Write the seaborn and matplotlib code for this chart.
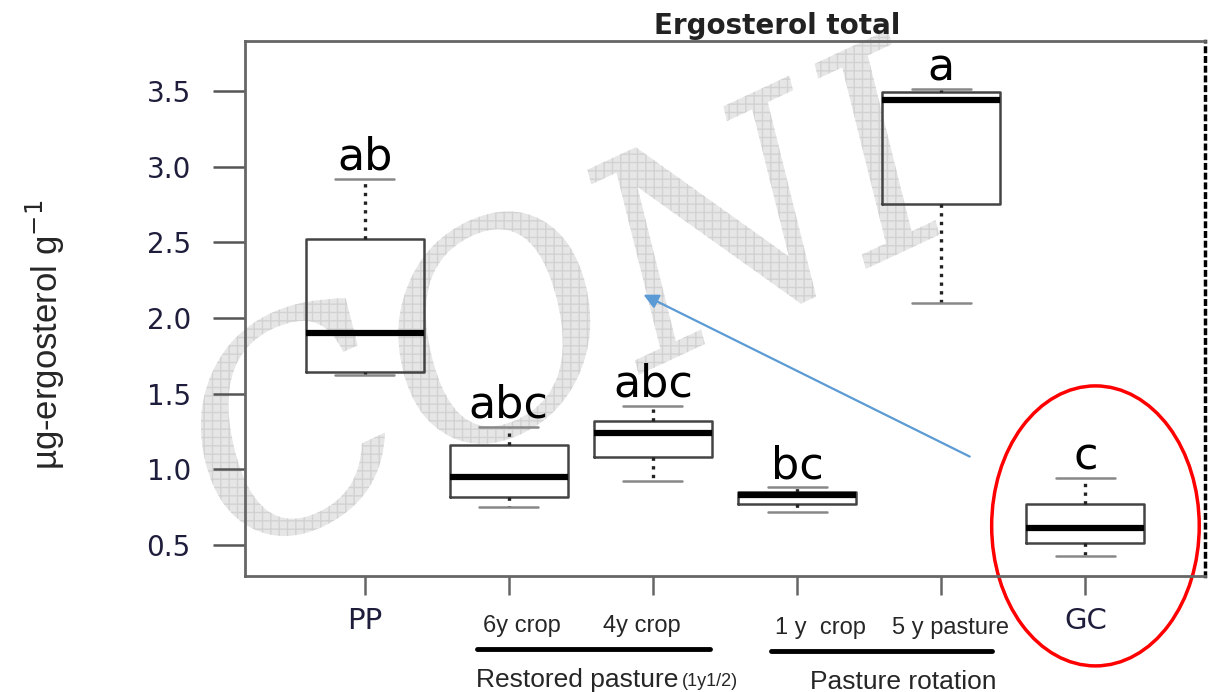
import matplotlib
matplotlib.use("Agg")
import matplotlib.pyplot as plt
import matplotlib.patheffects as pe
import pandas as pd
import seaborn as sns
from matplotlib.patches import Ellipse

# Ergosterol total per treatment
categories = ["PP", "6y crop", "4y crop", "1y crop", "5y pasture", "GC"]
tick_labels = ["PP", "", "", "", "", "GC"]
whisker_low = [1.62, 0.75, 0.92, 0.72, 2.10, 0.43]
q1 = [1.64, 0.82, 1.08, 0.77, 2.75, 0.51]
median = [1.90, 0.95, 1.24, 0.83, 3.44, 0.61]
q3 = [2.52, 1.16, 1.32, 0.85, 3.49, 0.77]
whisker_high = [2.92, 1.28, 1.42, 0.88, 3.51, 0.94]
letters = ["ab", "abc", "abc", "bc", "a", "c"]
y_ticks = [0.5, 1.0, 1.5, 2.0, 2.5, 3.0, 3.5]

W, H = 1216, 692
NARROW = ["Liberation Sans Narrow", "Liberation Sans", "DejaVu Sans"]
TICK_COLOR = "#1e1e3c"


def px(x, y):
    """Pixel position in the reference -> figure fraction."""
    return x / W, 1 - y / H


# five points per group: min, q1, median, q3, max -> seaborn reproduces the box stats
rows = []
for cat, lo, a, m, b, hi in zip(categories, whisker_low, q1, median, q3, whisker_high):
    for v in (lo, a, m, b, hi):
        rows.append({"group": cat, "value": v})
df = pd.DataFrame(rows)

sns.set_style("white")
fig = plt.figure(figsize=(W / 100, H / 100), dpi=100)
ax = fig.add_axes([245 / W, 116 / H, 960 / W, 535 / H])
ax.patch.set_alpha(0)

# watermark behind the plot
fig.text(*px(570, 320), "CONI", fontsize=205, family="DejaVu Serif", style="italic",
         rotation=25, ha="center", va="center", color="#e6e6e6", zorder=-1,
         path_effects=[pe.PathPatchEffect(facecolor="#e6e6e6", edgecolor="#d2d2d2",
                                          hatch="++", linewidth=0)])

sns.boxplot(
    data=df, x="group", y="value", order=categories, ax=ax,
    whis=(0, 100), width=0.82, fill=False, linecolor="#444444", linewidth=1.8,
    medianprops=dict(color="black", linewidth=4.5),
    whiskerprops=dict(color="#222222", linewidth=2.4, linestyle=(0, (1, 1.6))),
    capprops=dict(color="#888888", linewidth=1.8),
    boxprops=dict(color="#444444", linewidth=1.8),
)

for i, (hi, lab) in enumerate(zip(whisker_high, letters)):
    ax.text(i, hi + 0.06, lab, ha="center", va="baseline", fontsize=32, color="black")

ax.set_xlim(-0.83, 5.83)
ax.set_ylim(0.295, 3.83)
ax.set_xticks(range(len(categories)))
ax.set_xticklabels(tick_labels, fontsize=21, color=TICK_COLOR)
ax.set_yticks(y_ticks)
ax.set_yticklabels([f"{t:.1f}" for t in y_ticks], fontsize=20, color=TICK_COLOR)
ax.tick_params(axis="x", length=14, width=1.8, color="#666666", pad=8, bottom=True)
ax.tick_params(axis="y", length=23, width=1.8, color="#555555", pad=16, left=True)
ax.set_xlabel("")
ax.set_ylabel("")

for side in ["left", "bottom", "top"]:
    ax.spines[side].set_color("#666666")
    ax.spines[side].set_linewidth(2)
ax.spines["right"].set_color("black")
ax.spines["right"].set_linewidth(2.5)
ax.spines["right"].set_linestyle((0, (1, 1.8)))

# red ellipse around GC and blue arrow
ax.add_patch(Ellipse((5.07, 0.626), 1.44, 1.85, fill=False, ec="red", lw=2.5, clip_on=False))
ax.annotate("", xy=(1.917, 2.162), xytext=(4.215, 1.076),
            arrowprops=dict(arrowstyle="-|>", color="#5b9bd5", lw=1.6, mutation_scale=22))

fig.text(*px(777, 26), "Ergosterol total", fontsize=20, fontweight="bold",
         ha="center", va="center", color="#222222")
fig.text(*px(45, 335), r"µg-ergosterol g$^{-1}$", fontsize=25, rotation=90,
         ha="center", va="center", family=NARROW)

# grouping labels below the axis
fig.text(*px(522, 626), "6y crop", fontsize=17, ha="center", va="center", family=NARROW)
fig.text(*px(642, 626), "4y crop", fontsize=17, ha="center", va="center", family=NARROW)
fig.text(*px(820, 628), "1 y  crop", fontsize=17, ha="center", va="center", family=NARROW)
fig.text(*px(951, 628), "5 y pasture", fontsize=17, ha="center", va="center", family=NARROW)
fig.add_artist(plt.Line2D([477 / W, 710 / W], [1 - 649 / H] * 2, color="black", lw=3.5))
fig.add_artist(plt.Line2D([771 / W, 992 / W], [1 - 651 / H] * 2, color="black", lw=3.5))
fig.text(*px(678, 680), "Restored pasture", fontsize=19, ha="right", va="center", family=NARROW)
fig.text(*px(682, 682), "(1y1/2)", fontsize=13, ha="left", va="center", family=NARROW)
fig.text(*px(903, 682), "Pasture rotation", fontsize=19, ha="center", va="center", family=NARROW)

fig.savefig("out.png", dpi=100)
